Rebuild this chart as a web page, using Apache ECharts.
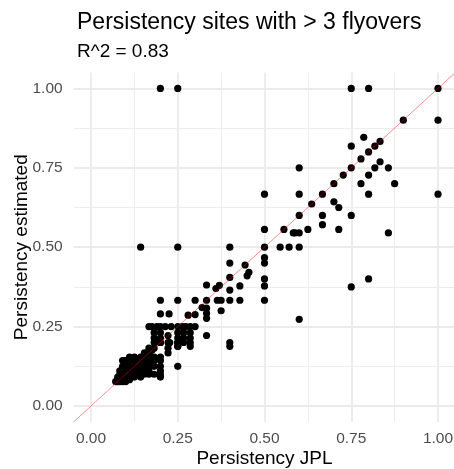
<!DOCTYPE html>
<html>
<head>
<meta charset="utf-8">
<script src="https://cdn.jsdelivr.net/npm/echarts@6/dist/echarts.min.js"></script>
<style>
  html, body { margin: 0; padding: 0; background: #ffffff; }
  #chart { width: 454px; height: 469px; }
</style>
</head>
<body>
<div id="chart"></div>
<script>
// Persistency from JPL (x) against estimated persistency (y), one entry per site
const persistencyJPL = [
  // upper part
  0.2, 0.25, 0.75, 0.8, 1.0, 0.9, 1.0, 0.786, 0.75, 0.818, 0.833, 0.8, 0.778, 0.75, 0.6,
  0.727, 0.7, 0.778, 0.818, 0.833, 0.8, 0.857, 0.875,
  // middle
  0.5, 0.6, 0.667, 0.8, 1.0, 0.636, 0.7, 0.714, 0.6, 0.667, 0.75, 0.667, 0.5, 0.556, 0.625,
  0.714, 0.583, 0.588, 0.6, 0.857, 0.143, 0.25, 0.4, 0.5, 0.545, 0.571, 0.6, 0.5, 0.5, 0.4,
  0.444, 0.455, 0.45, 0.4, 0.5, 0.8, 0.429, 0.4, 0.333, 0.37, 0.36, 0.5, 0.75,
  // row at one third
  0.2, 0.25, 0.3, 0.333, 0.364, 0.375, 0.4, 0.429, 0.5,
  0.375, 0.333, 0.333, 0.333, 0.2, 0.225, 0.6, 0.28, 0.3, 0.32,
  // row at one quarter
  0.167, 0.176, 0.19, 0.2, 0.214, 0.231, 0.25, 0.263, 0.273, 0.286, 0.3,
  0.182, 0.182, 0.182, 0.182, 0.2, 0.2, 0.2, 0.222, 0.222, 0.222, 0.25, 0.25, 0.25, 0.25,
  0.267, 0.267, 0.267, 0.286, 0.286, 0.286, 0.286, 0.333, 0.4, 0.4, 0.222, 0.25,
  0.182, 0.182, 0.2, 0.2, 0.2, 0.2,
  // dense low cluster
  0.077, 0.083, 0.077, 0.083, 0.091, 0.091, 0.083, 0.1, 0.1, 0.091, 0.1, 0.111, 0.111, 0.1,
  0.111, 0.118, 0.125, 0.125, 0.111, 0.125, 0.133, 0.133, 0.143, 0.143, 0.133, 0.143, 0.143,
  0.154, 0.154, 0.143, 0.167, 0.167, 0.154, 0.167, 0.167, 0.167, 0.167, 0.154, 0.154, 0.1,
  0.091, 0.083, 0.111, 0.125, 0.1, 0.091, 0.167, 0.176, 0.184, 0.2, 0.227, 0.25, 0.25,
  0.071, 0.077, 0.083, 0.091, 0.1, 0.111, 0.125, 0.133, 0.143, 0.154, 0.118, 0.125, 0.111,
  0.1, 0.091, 0.133, 0.143, 0.167, 0.176, 0.176, 0.182, 0.182, 0.2, 0.2
];
const persistencyEstimated = [
  // upper part
  1.0, 1.0, 1.0, 1.0, 1.0, 0.9, 0.9, 0.846, 0.818, 0.818, 0.833, 0.8, 0.778, 0.75, 0.75,
  0.727, 0.7, 0.7, 0.75, 0.769, 0.727, 0.75, 0.7,
  // middle
  0.667, 0.667, 0.667, 0.667, 0.667, 0.636, 0.643, 0.625, 0.6, 0.6, 0.6, 0.571, 0.556, 0.556, 0.556,
  0.556, 0.545, 0.545, 0.545, 0.545, 0.5, 0.5, 0.5, 0.5, 0.5, 0.5, 0.5, 0.467, 0.45, 0.45,
  0.444, 0.421, 0.41, 0.405, 0.4, 0.4, 0.378, 0.365, 0.381, 0.38, 0.37, 0.378, 0.375,
  // row at one third
  0.333, 0.333, 0.333, 0.333, 0.333, 0.333, 0.333, 0.333, 0.333,
  0.3, 0.308, 0.292, 0.276, 0.29, 0.29, 0.273, 0.286, 0.288, 0.31,
  // row at one quarter
  0.25, 0.25, 0.25, 0.25, 0.25, 0.25, 0.25, 0.25, 0.25, 0.25, 0.25,
  0.231, 0.214, 0.2, 0.182, 0.231, 0.214, 0.2, 0.222, 0.2, 0.182, 0.231, 0.214, 0.2, 0.188,
  0.231, 0.214, 0.2, 0.231, 0.214, 0.2, 0.188, 0.222, 0.2, 0.188, 0.167, 0.125,
  0.125, 0.1, 0.125, 0.111, 0.1, 0.091,
  // dense low cluster
  0.077, 0.083, 0.083, 0.077, 0.083, 0.091, 0.091, 0.091, 0.1, 0.1, 0.083, 0.1, 0.111, 0.111,
  0.091, 0.111, 0.111, 0.125, 0.125, 0.1, 0.125, 0.133, 0.125, 0.143, 0.143, 0.111, 0.1,
  0.143, 0.154, 0.154, 0.154, 0.167, 0.167, 0.143, 0.125, 0.111, 0.1, 0.125, 0.111, 0.125,
  0.111, 0.1, 0.143, 0.143, 0.143, 0.143, 0.182, 0.176, 0.2, 0.2, 0.2, 0.2, 0.188,
  0.077, 0.091, 0.111, 0.125, 0.143, 0.154, 0.154, 0.1, 0.091, 0.1, 0.1, 0.091, 0.083,
  0.077, 0.077, 0.111, 0.133, 0.133, 0.143, 0.154, 0.143, 0.154, 0.143, 0.154
];

// axis tick values and the shared value range of both axes
const majorTicks = [0, 0.25, 0.5, 0.75, 1];
const minorTicks = [0.125, 0.375, 0.625, 0.875];
const axisRange = [-0.05, 1.05];
// 1:1 reference line end points
const identityLine = [-0.05, 1.05];

const titleText = 'Persistency sites with > 3 flyovers';
const subtitleText = 'R^2 = 0.83';
const xName = 'Persistency JPL';
const yName = 'Persistency estimated';

const FONT = "'Liberation Sans', Arial, Helvetica, sans-serif";
const GRID_COLOR = '#EBEBEB';

const points = persistencyJPL.map((x, i) => [x, persistencyEstimated[i]]);
const lineData = identityLine.map(v => [v, v]);

function majorAxis(isX) {
  return {
    type: 'value',
    min: axisRange[0],
    max: axisRange[1],
    position: isX ? 'bottom' : 'left',
    name: isX ? xName : yName,
    nameLocation: 'middle',
    nameGap: isX ? 27 : 42,
    nameMoveOverlap: false,
    nameTextStyle: { color: '#000000', fontFamily: FONT, fontSize: 19 },
    axisLine: { show: false },
    axisTick: { show: false, customValues: majorTicks },
    axisLabel: {
      customValues: majorTicks,
      formatter: v => v.toFixed(2),
      color: '#4D4D4D',
      fontFamily: FONT,
      fontSize: 15.5,
      margin: isX ? 9 : 11
    },
    splitLine: { show: true, lineStyle: { color: GRID_COLOR, width: 1.8 } }
  };
}

function minorAxis(isX) {
  return {
    type: 'value',
    min: axisRange[0],
    max: axisRange[1],
    position: isX ? 'bottom' : 'left',
    axisLine: { show: false },
    axisTick: { show: false, customValues: minorTicks },
    axisLabel: { show: false, customValues: minorTicks },
    splitLine: { show: true, lineStyle: { color: GRID_COLOR, width: 0.9 } }
  };
}

const chart = echarts.init(document.getElementById('chart'), null, { renderer: 'canvas' });
chart.setOption({
  backgroundColor: '#ffffff',
  animation: false,
  title: {
    text: titleText,
    subtext: subtitleText,
    left: 72,
    top: 6,
    itemGap: 8,
    textStyle: { color: '#000000', fontFamily: FONT, fontSize: 23, fontWeight: 'normal' },
    subtextStyle: { color: '#000000', fontFamily: FONT, fontSize: 19 }
  },
  grid: {
    left: 73.65, top: 72.5, width: 381.7, height: 349.4,
    containLabel: false,
    outerBoundsMode: 'none'
  },
  xAxis: [majorAxis(true), minorAxis(true)],
  yAxis: [majorAxis(false), minorAxis(false)],
  series: [
    {
      type: 'scatter',
      xAxisIndex: 0,
      yAxisIndex: 0,
      data: points,
      symbol: 'circle',
      symbolSize: 7.2,
      itemStyle: { color: '#000000', opacity: 1 },
      z: 2
    },
    {
      type: 'line',
      xAxisIndex: 0,
      yAxisIndex: 0,
      data: lineData,
      symbol: 'none',
      lineStyle: { color: 'rgba(255,0,0,0.45)', width: 1 },
      z: 3,
      silent: true
    }
  ]
});
</script>
</body>
</html>
